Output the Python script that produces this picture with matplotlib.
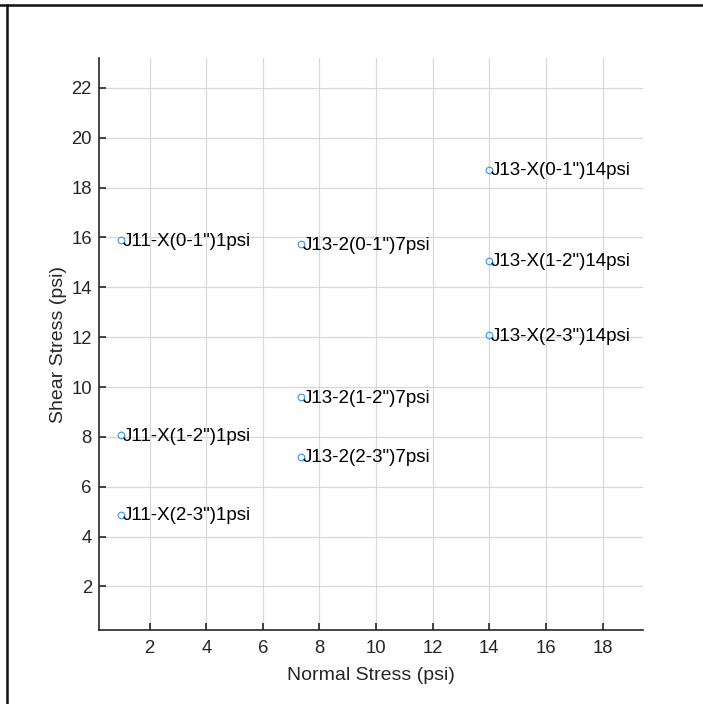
import matplotlib
matplotlib.use('Agg')
import matplotlib.pyplot as plt
from matplotlib.lines import Line2D

plt.rcParams['font.family'] = ['Liberation Sans', 'DejaVu Sans']

# normal / shear stress for each sample (psi)
samples = ['J11-X(0-1")1psi', 'J11-X(1-2")1psi', 'J11-X(2-3")1psi',
           'J13-2(0-1")7psi', 'J13-2(1-2")7psi', 'J13-2(2-3")7psi',
           'J13-X(0-1")14psi', 'J13-X(1-2")14psi', 'J13-X(2-3")14psi']
normal_stress = [1, 1, 1, 7.35, 7.35, 7.35, 14, 14, 14]
shear_stress = [15.9, 8.07, 4.87, 15.72, 9.58, 7.2, 18.72, 15.07, 12.07]

fig = plt.figure(figsize=(7.03, 7.04), dpi=100)
ax = fig.add_axes([0.1404, 0.1051, 0.7743, 0.8125])

ax.plot(normal_stress, shear_stress, 'o', linestyle='none', markersize=4.8,
        markerfacecolor='none', markeredgecolor='#3a94e0', markeredgewidth=0.8)
for x, y, s in zip(normal_stress, shear_stress, samples):
    ax.annotate(s, (x, y), xytext=(1.0, -0.8), textcoords='offset points',
                ha='left', va='center', fontsize=13.5, color='black')

ax.set_xlim(0.2, 19.43)
ax.set_ylim(0.25, 23.2)
ax.set_xticks(range(2, 19, 2))
ax.set_yticks(range(2, 23, 2))

ax.grid(True, color='#d8d8d8', linewidth=0.9)
ax.set_axisbelow(True)
for side in ['top', 'right']:
    ax.spines[side].set_visible(False)
for side in ['left', 'bottom']:
    ax.spines[side].set_color('#262626')
    ax.spines[side].set_linewidth(1.2)
ax.tick_params(direction='in', length=5, width=1.2, color='#262626',
               labelcolor='#262626', labelsize=13.3)
ax.tick_params(axis='x', pad=7.5)
ax.tick_params(axis='y', pad=5)

ax.set_xlabel('Normal Stress (psi)', fontsize=14, color='#262626', labelpad=7)
ax.set_ylabel('Shear Stress (psi)', fontsize=14, color='#262626', labelpad=3)

# window frame along the top and left edges
fig.add_artist(Line2D([0.0, 1.0], [1 - 5 / 704, 1 - 5 / 704],
                      transform=fig.transFigure, color='#111111', linewidth=1.8))
fig.add_artist(Line2D([7 / 703, 7 / 703], [0.0, 1 - 5 / 704],
                      transform=fig.transFigure, color='#111111', linewidth=1.8))

fig.savefig('out.png', dpi=100, facecolor='white')
